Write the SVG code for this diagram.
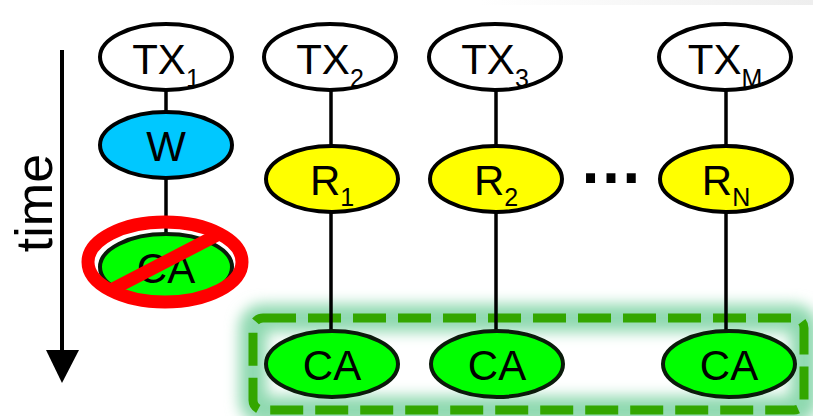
<svg xmlns="http://www.w3.org/2000/svg" width="813" height="416" viewBox="0 0 813 416">
  <defs>
    <style>
      .node { stroke: #000; stroke-width: 4; }
      .tx { fill: #fff; }
      .w { fill: #00c8ff; }
      .r { fill: #ffff00; }
      .ca-cut { fill: #00ff00; stroke: #0a1a0a; stroke-width: 4; }
      .lbl { font-family: "Liberation Sans", Arial, sans-serif; font-size: 42px; fill: #000; text-anchor: middle; }
      .sub { font-size: 25px; }
      .link { stroke: #000; stroke-width: 3.5; fill: none; }
    </style>
    <linearGradient id="topShade" x1="0" y1="0" x2="1" y2="0">
      <stop offset="0" stop-color="#eeeeee" stop-opacity="0"/>
      <stop offset="1" stop-color="#eeeeee" stop-opacity="1"/>
    </linearGradient>
    <filter id="glow" x="-10%" y="-50%" width="120%" height="200%">
      <feGaussianBlur stdDeviation="7"/>
    </filter>
  </defs>

  <!-- faint shading along the top edge -->
  <rect x="480" y="0" width="333" height="5" fill="url(#topShade)"/>

  <!-- time axis -->
  <g id="time-axis">
    <line x1="62" y1="50" x2="62" y2="352" stroke="#000" stroke-width="4"/>
    <path d="M46 350 L79 350 L62 383 Z" fill="#000"/>
    <text class="lbl" transform="translate(52 203) rotate(-90)" style="font-size:52px">time</text>
  </g>

  <!-- highlighted group of commits -->
  <g id="commit-group">
    <rect x="253" y="318" width="551" height="92" rx="10" fill="none" stroke="#8fd9b0" stroke-width="28" filter="url(#glow)"/>
    <rect x="253" y="318" width="551" height="92" rx="10" fill="none" stroke="#33a600" stroke-width="9" stroke-dasharray="33 12"/>
  </g>

  <!-- connectors -->
  <g id="connectors">
    <line class="link" x1="166" y1="90" x2="166" y2="112"/>
    <line class="link" x1="166" y1="178" x2="166" y2="234"/>
    <line class="link" x1="331" y1="90" x2="331" y2="146"/>
    <line class="link" x1="331" y1="212" x2="331" y2="332"/>
    <line class="link" x1="496" y1="90" x2="496" y2="146"/>
    <line class="link" x1="496" y1="212" x2="496" y2="332"/>
    <line class="link" x1="726" y1="90" x2="726" y2="146"/>
    <line class="link" x1="726" y1="212" x2="726" y2="332"/>
  </g>

  <!-- column 1 -->
  <g id="tx1">
    <ellipse class="node tx" cx="166" cy="57" rx="66" ry="33"/>
    <text class="lbl" x="166" y="74">TX<tspan class="sub" dy="13">1</tspan></text>
  </g>
  <g id="w">
    <ellipse class="node w" cx="166" cy="145" rx="66" ry="33"/>
    <text class="lbl" x="166" y="161">W</text>
  </g>
  <g id="ca1">
    <ellipse class="ca-cut" cx="166" cy="267" rx="66" ry="33"/>
    <text class="lbl" x="166" y="283">CA</text>
  </g>
  <g id="ca1-forbidden">
    <ellipse cx="165" cy="262" rx="77" ry="40" fill="none" stroke="#ff0000" stroke-width="13"/>
    <line x1="221" y1="233" x2="109" y2="291" stroke="#ff0000" stroke-width="13"/>
  </g>

  <!-- column 2 -->
  <g id="tx2">
    <ellipse class="node tx" cx="330" cy="57" rx="66" ry="33"/>
    <text class="lbl" x="330" y="74">TX<tspan class="sub" dy="13">2</tspan></text>
  </g>
  <g id="r1">
    <ellipse class="node r" cx="332" cy="179" rx="66" ry="33"/>
    <text class="lbl" x="332" y="195">R<tspan class="sub" dy="11">1</tspan></text>
  </g>
  <g id="ca2">
    <ellipse class="ca-cut" cx="332" cy="364" rx="66" ry="33"/>
    <text class="lbl" x="332" y="380">CA</text>
  </g>

  <!-- column 3 -->
  <g id="tx3">
    <ellipse class="node tx" cx="495" cy="57" rx="66" ry="33"/>
    <text class="lbl" x="495" y="74">TX<tspan class="sub" dy="13">3</tspan></text>
  </g>
  <g id="r2">
    <ellipse class="node r" cx="496" cy="179" rx="66" ry="33"/>
    <text class="lbl" x="496" y="195">R<tspan class="sub" dy="11">2</tspan></text>
  </g>
  <g id="ca3">
    <ellipse class="ca-cut" cx="497" cy="364" rx="66" ry="33"/>
    <text class="lbl" x="497" y="380">CA</text>
  </g>

  <!-- ellipsis between columns -->
  <text class="lbl" x="611" y="183" style="font-size:64px;font-weight:bold">…</text>

  <!-- column M -->
  <g id="txm">
    <ellipse class="node tx" cx="725" cy="57" rx="66" ry="33"/>
    <text class="lbl" x="725" y="74">TX<tspan class="sub" dy="13">M</tspan></text>
  </g>
  <g id="rn">
    <ellipse class="node r" cx="726" cy="179" rx="66" ry="33"/>
    <text class="lbl" x="726" y="195">R<tspan class="sub" dy="11">N</tspan></text>
  </g>
  <g id="cam">
    <ellipse class="ca-cut" cx="729" cy="364" rx="66" ry="33"/>
    <text class="lbl" x="729" y="380">CA</text>
  </g>
</svg>
